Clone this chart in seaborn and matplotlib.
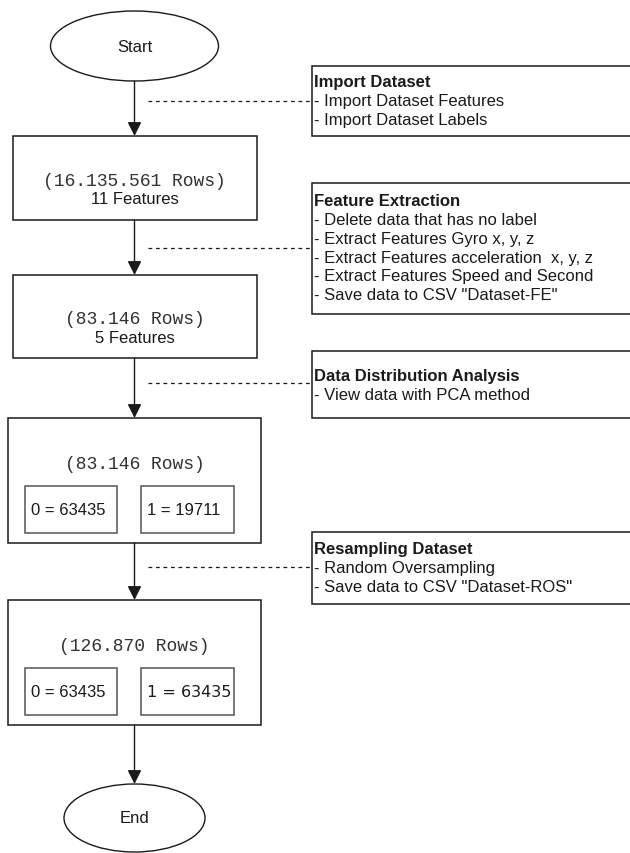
import matplotlib
matplotlib.use("Agg")
import matplotlib.pyplot as plt
import seaborn as sns
from matplotlib.patches import Rectangle, Ellipse

# flowchart content
terminals = ["Start", "End"]
row_counts = ["16.135.561", "83.146", "83.146", "126.870"]
feature_counts = ["11 Features", "5 Features", None, None]
class_counts = [None, None, ("63435", "19711"), ("63435", "63435")]

note_titles = ["Import Dataset", "Feature Extraction",
               "Data Distribution Analysis", "Resampling Dataset"]
note_items = [
    ["Import Dataset Features", "Import Dataset Labels"],
    ["Delete data that has no label", "Extract Features Gyro x, y, z",
     "Extract Features acceleration  x, y, z",
     "Extract Features Speed and Second", 'Save data to CSV "Dataset-FE"'],
    ["View data with PCA method"],
    ["Random Oversampling", 'Save data to CSV "Dataset-ROS"'],
]

# layout (pixel coordinates, y downwards)
cx = 134.5
term_y = [47, 819]
term_w = [168, 141]
term_h = [70, 68]
box_x = [(13, 257), (13, 257), (8, 261), (8, 261)]
box_y = [(137, 221), (276, 359), (419, 544), (601, 726)]
sub_x = [(25, 117), (141, 234)]
note_y = [(67, 137), (184, 315), (352, 419), (533, 605)]
note_title_y = [83, 202, 377, 550]
link_y = [102, 249, 384, 568]
line_step = 18.7

sns.set_theme(style="white")
plt.rcParams["font.family"] = ["Liberation Sans", "DejaVu Sans"]

fig = plt.figure(figsize=(6.3, 8.54), dpi=100)
ax = fig.add_axes([0, 0, 1, 1])
ax.set_xlim(0, 630)
ax.set_ylim(854, 0)
ax.axis("off")

edge = "#1a1a1a"
txt = "#1a1a1a"

# terminals
for label, y, w, h in zip(terminals, term_y, term_w, term_h):
    ax.add_patch(Ellipse((cx, y), w, h, facecolor="white", edgecolor=edge, lw=1.0))
    ax.text(cx, y, label, ha="center", va="center", fontsize=12, color=txt)

# process boxes
for i, (rows, feat, cls) in enumerate(zip(row_counts, feature_counts, class_counts)):
    x0, x1 = box_x[i]
    y0, y1 = box_y[i]
    ax.add_patch(Rectangle((x0, y0), x1 - x0, y1 - y0, facecolor="white",
                           edgecolor=edge, lw=1.1))
    if feat is not None:
        ax.text(cx, y0 + 44, f"({rows} Rows)", ha="center", va="center",
                fontsize=13, family="Liberation Mono", color="#333333")
        ax.text(cx, y0 + 63, feat, ha="center", va="center", fontsize=12, color=txt)
    else:
        ax.text(cx, y0 + 46, f"({rows} Rows)", ha="center", va="center",
                fontsize=13, family="Liberation Mono", color="#333333")
        for k, ((sx0, sx1), val) in enumerate(zip(sub_x, cls)):
            sy0 = y0 + 68
            ax.add_patch(Rectangle((sx0, sy0), sx1 - sx0, 47, facecolor="white",
                                   edgecolor="#555555", lw=1.1))
            fam = ["DejaVu Sans"] if (i == 3 and k == 1) else ["Liberation Sans"]
            ax.text(sx0 + 6, sy0 + 23.5, f"{k} = {val}", ha="left", va="center",
                    fontsize=11.5 if i == 3 and k == 1 else 12, family=fam, color=txt)

# arrows between steps
stops = [term_y[0] + term_h[0] / 2] + [v for pair in box_y for v in pair] + \
        [term_y[1] - term_h[1] / 2]
for a, b in zip(stops[0::2], stops[1::2]):
    ax.annotate("", xy=(cx, b), xytext=(cx, a),
                arrowprops=dict(arrowstyle="-|>,head_length=0.6,head_width=0.3",
                                color=edge, lw=1.0,
                                mutation_scale=14, shrinkA=0, shrinkB=0))

# notes
for title, items, (ny0, ny1), ty, ly in zip(note_titles, note_items, note_y,
                                             note_title_y, link_y):
    ax.add_patch(Rectangle((312, ny0), 330, ny1 - ny0, facecolor="white",
                           edgecolor=edge, lw=1.1, clip_on=True))
    ax.text(314, ty, title, ha="left", va="center", fontsize=12,
            fontweight="bold", color=txt)
    for j, item in enumerate(items):
        ax.text(314, ty + line_step * (j + 1), "- " + item, ha="left",
                va="center", fontsize=12, color=txt)
    ax.plot([148, 312], [ly, ly], color=edge, lw=0.9, ls=(0, (3, 3)))

fig.savefig("out.png", dpi=100, facecolor="white")
